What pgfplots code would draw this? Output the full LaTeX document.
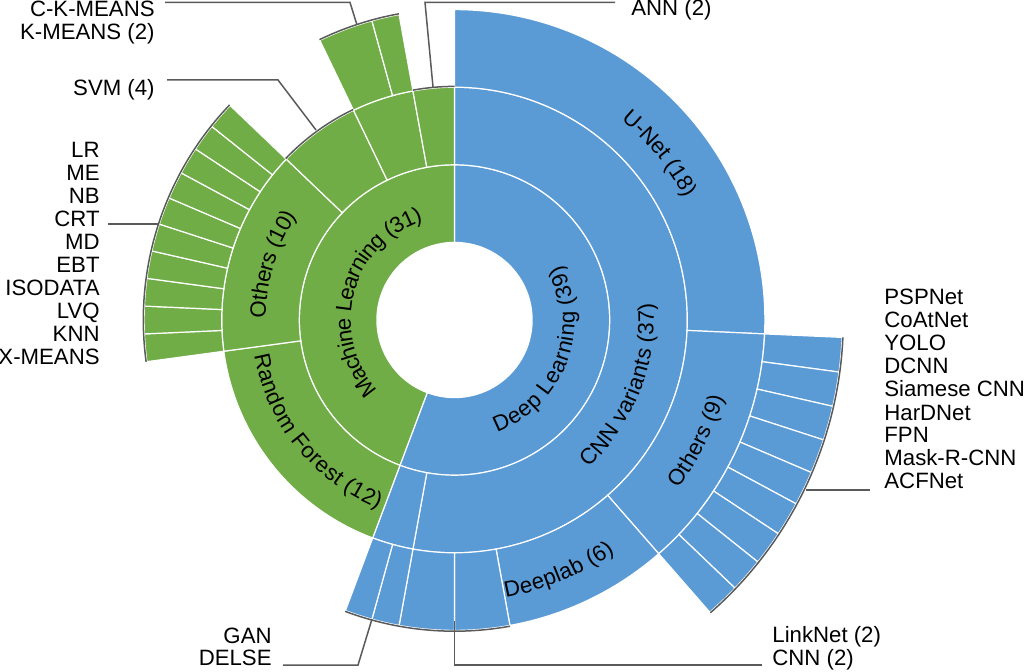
\documentclass[border=0pt]{standalone}
\usepackage{pgfplots}
\pgfplotsset{compat=1.18}
\usetikzlibrary{decorations.text}
\usepackage{fontspec}
\setmainfont{Liberation Sans}
\definecolor{dlblue}{RGB}{91,155,213}
\definecolor{mlgreen}{RGB}{112,173,71}
\definecolor{leader}{RGB}{90,90,90}
\def\pxu{0.5bp}
\def\step{5.1428571}% 360/70 degrees per paper
\newcommand{\labfont}{\fontsize{11.1bp}{12bp}\selectfont}
\tikzset{
  dl/.style={fill=dlblue, draw=white, line width=0.6bp},
  ml/.style={fill=mlgreen, draw=white, line width=0.6bp},
  gap/.style={},
  lead/.style={draw=leader, line width=0.75bp},
  lab/.style={font=\labfont, inner sep=0pt},
}
% angle of cumulative count k (70 papers, clockwise from the top)
\newcommand{\ang}[1]{90-(#1)*\step}
% one ring: inner radius, outer radius, list of count/style
\newcommand{\ring}[3]{%
  \xdef\acc{0}%
  \foreach \n/\s in {#3} {%
    \pgfmathsetmacro\aone{90-\acc*\step}%
    \pgfmathsetmacro\atwo{90-(\acc+\n)*\step}%
    \path[\s] (\aone:{#1*\pxu}) arc[start angle=\aone, end angle=\atwo, radius={#1*\pxu}]
      -- (\atwo:{#2*\pxu}) arc[start angle=\atwo, end angle=\aone, radius={#2*\pxu}] -- cycle;
    \pgfmathsetmacro\nacc{\acc+\n}%
    \xdef\acc{\nacc}%
  }}
% grey arc along the outer edge of a labelled group
\newcommand{\larc}[3]{\draw[lead] ({\ang{#1}}:{#3*\pxu}) arc[start angle={\ang{#1}}, end angle={\ang{#2}}, radius={#3*\pxu}];}
% curved label: centre angle, radius, half span, direction (1 ccw, -1 cw), text
\newcommand{\curv}[5]{%
  \pgfmathsetmacro\ca{#1-#4*#3}\pgfmathsetmacro\cb{#1+#4*#3}%
  \path[decorate, decoration={text along path, text align=center, raise=-3.6bp,
    text={|\labfont|#5}}] (\ca:{#2*\pxu}) arc[start angle=\ca, end angle=\cb, radius={#2*\pxu}];}
\begin{document}
\begin{tikzpicture}
\begin{axis}[name=ax, x=0.5bp, y=0.5bp, xmin=0, xmax=1024, ymin=-671, ymax=0,
  hide axis, clip=false]
\pgfplotsextra{
\begin{scope}[shift={(axis cs:454.5,-320)}]
  % level 1
  \ring{77.6}{155.2}{39/dl,31/ml}
  % level 2
  \ring{155.2}{232.8}{37/dl,2/dl,12/ml,10/ml,4/ml,3/ml,2/ml}
  % level 3
  \ring{232.8}{310.4}{18/dl,9/dl,6/dl,2/dl,2/dl,1/dl,1/dl,12/gap,1/ml,1/ml,1/ml,1/ml,1/ml,1/ml,1/ml,1/ml,1/ml,1/ml,4/gap,2/ml,1/ml,2/gap}
  % level 4
  \ring{310.4}{388}{18/gap,1/dl,1/dl,1/dl,1/dl,1/dl,1/dl,1/dl,1/dl,1/dl,43/gap}
  % leader arcs
  \larc{68}{70}{233.6}
  \larc{65}{68}{311.2}
  \larc{61}{65}{233.6}
  \larc{51}{61}{311.2}
  \larc{18}{27}{388.8}
  \larc{37}{39}{311.2}
  \larc{33}{37}{311.2}
  % labels inside the rings
  \curv{-21}{113}{65}{1}{Deep Learning (39)}
  \curv{165}{111}{70}{-1}{Machine Learning (31)}
  \curv{-21.5}{192}{45}{1}{CNN variants (37)}
  \curv{219}{196}{45}{1}{Random Forest (12)}
  \curv{163}{196}{45}{-1}{Others (10)}
  \curv{39}{268}{30}{-1}{U-Net (18)}
  \curv{-26.5}{273}{30}{1}{Others (9)}
  \curv{-67.5}{275}{30}{1}{Deeplab (6)}
\end{scope}
% leader lines
\draw[lead] (axis cs:165,-2.5) -- (axis cs:350,-2.5) -- (axis cs:357,-25);
\draw[lead] (axis cs:615,-2.5) -- (axis cs:425,-2.5) -- (axis cs:433,-87);
\draw[lead] (axis cs:167,-80) -- (axis cs:278,-80) -- (axis cs:316,-130);
\draw[lead] (axis cs:108,-224) -- (axis cs:159,-224);
\draw[lead] (axis cs:806,-490) -- (axis cs:870,-490);
\draw[lead] (axis cs:283,-665) -- (axis cs:358,-665) -- (axis cs:372,-619);
\draw[lead] (axis cs:454.5,-621) -- (axis cs:454.5,-665) -- (axis cs:762,-665);
% outer labels
\node[lab, anchor=base east] at (axis cs:155,-17) {C-K-MEANS};
\node[lab, anchor=base east] at (axis cs:155,-40) {K-MEANS (2)};
\node[lab, anchor=base west] at (axis cs:631,-16) {ANN (2)};
\node[lab, anchor=base east] at (axis cs:155,-96) {SVM (4)};
\node[lab, anchor=base east] at (axis cs:100,-158) {LR};
\node[lab, anchor=base east] at (axis cs:100,-181) {ME};
\node[lab, anchor=base east] at (axis cs:100,-204) {NB};
\node[lab, anchor=base east] at (axis cs:100,-227) {CRT};
\node[lab, anchor=base east] at (axis cs:100,-250) {MD};
\node[lab, anchor=base east] at (axis cs:100,-273) {EBT};
\node[lab, anchor=base east] at (axis cs:100,-296) {ISODATA};
\node[lab, anchor=base east] at (axis cs:100,-319) {LVQ};
\node[lab, anchor=base east] at (axis cs:100,-342) {KNN};
\node[lab, anchor=base east] at (axis cs:100,-365) {X-MEANS};
\node[lab, anchor=base west] at (axis cs:884,-305) {PSPNet};
\node[lab, anchor=base west] at (axis cs:884,-328) {CoAtNet};
\node[lab, anchor=base west] at (axis cs:884,-351) {YOLO};
\node[lab, anchor=base west] at (axis cs:884,-374) {DCNN};
\node[lab, anchor=base west] at (axis cs:884,-397) {Siamese CNN};
\node[lab, anchor=base west] at (axis cs:884,-420) {HarDNet};
\node[lab, anchor=base west] at (axis cs:884,-442) {FPN};
\node[lab, anchor=base west] at (axis cs:884,-465) {Mask-R-CNN};
\node[lab, anchor=base west] at (axis cs:884,-488) {ACFNet};
\node[lab, anchor=base east] at (axis cs:272,-643) {GAN};
\node[lab, anchor=base east] at (axis cs:272,-665) {DELSE};
\node[lab, anchor=base west] at (axis cs:772,-642) {LinkNet (2)};
\node[lab, anchor=base west] at (axis cs:772,-665) {CNN (2)};
}
\end{axis}
\pgfresetboundingbox
\path (ax.south west) rectangle (ax.north east);
\end{tikzpicture}
\end{document}
